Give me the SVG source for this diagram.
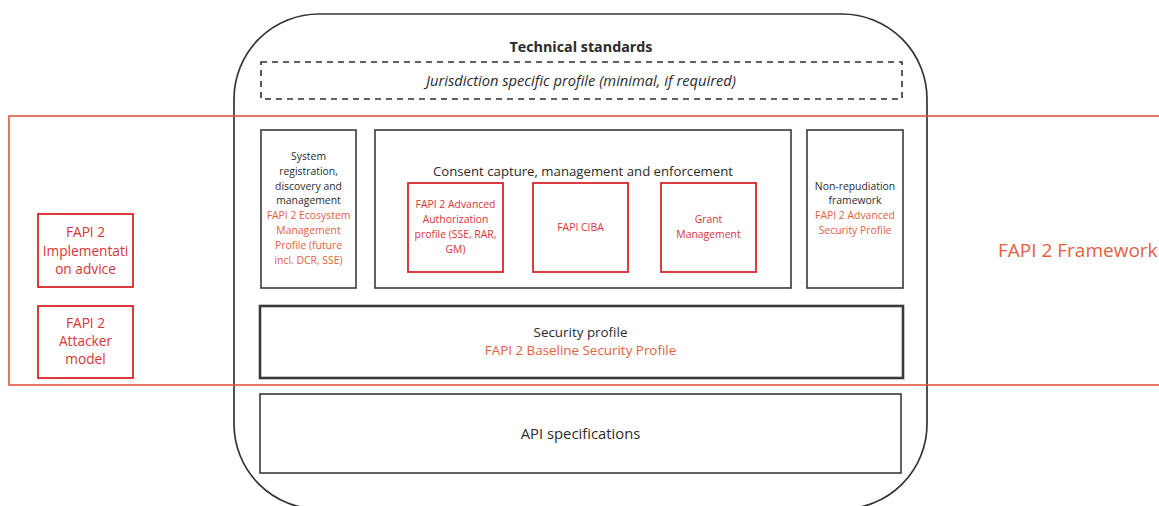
<svg xmlns="http://www.w3.org/2000/svg" width="1159" height="506" viewBox="0 0 1159 506">
  <style>
    text { font-family: "Open Sans", "Noto Sans", "Liberation Sans", sans-serif; text-anchor: middle; }
    .box { fill: #ffffff; stroke: #3a3a3a; stroke-width: 1.6; }
    .thick { stroke-width: 2.6; }
    .red { fill: #ffffff; stroke: #d8262b; stroke-width: 1.8; }
    .frame { fill: none; stroke: #e4553f; stroke-width: 1.6; }
    .dash { fill: none; stroke: #2e2e2e; stroke-width: 1.6; stroke-dasharray: 6 5; }
    .dk { fill: #2b2b2b; }
    .or { fill: #e4603f; }
    .rd { fill: #d8343a; }
    .s { font-size: 10.4px; }
    .m { font-size: 13.4px; }
    .side { font-size: 13.7px; }
  </style>

  <!-- Technical standards container -->
  <g id="technical-standards">
    <rect x="234" y="14" width="693" height="495" rx="85" ry="85" fill="#ffffff" stroke="#333333" stroke-width="1.7"/>
    <text class="dk" x="581" y="52" font-size="14.3" font-weight="700">Technical standards</text>
  </g>

  <g id="jurisdiction-profile">
    <rect class="dash" x="261" y="62" width="641" height="37"/>
    <text class="dk" x="581" y="85.5" font-size="14.7" font-style="italic">Jurisdiction specific profile (minimal, if required)</text>
  </g>

  <g id="system-registration">
    <rect class="box" x="261" y="130" width="95" height="158"/>
    <text class="dk s" x="308.5" y="160">System</text>
    <text class="dk s" x="308.5" y="175">registration,</text>
    <text class="dk s" x="308.5" y="190">discovery and</text>
    <text class="dk s" x="308.5" y="204">management</text>
    <text class="or s" x="308.5" y="219">FAPI 2 Ecosystem</text>
    <text class="or s" x="308.5" y="234">Management</text>
    <text class="or s" x="308.5" y="249">Profile (future</text>
    <text class="or s" x="308.5" y="264">incl. DCR, SSE)</text>
  </g>

  <g id="consent">
    <rect class="box" x="375" y="130" width="416" height="158"/>
    <text class="dk" x="583" y="176" font-size="13.2">Consent capture, management and enforcement</text>
  </g>

  <g id="advanced-authorization">
    <rect class="red" x="408" y="183" width="95" height="89"/>
    <text class="rd s" x="455.5" y="208">FAPI 2 Advanced</text>
    <text class="rd s" x="455.5" y="223">Authorization</text>
    <text class="rd s" x="455.5" y="238">profile (SSE, RAR,</text>
    <text class="rd s" x="455.5" y="253">GM)</text>
  </g>

  <g id="fapi-ciba">
    <rect class="red" x="533" y="183" width="95" height="89"/>
    <text class="rd s" x="580.5" y="231">FAPI CIBA</text>
  </g>

  <g id="grant-management">
    <rect class="red" x="661" y="183" width="95" height="89"/>
    <text class="rd s" x="708.5" y="223">Grant</text>
    <text class="rd s" x="708.5" y="238">Management</text>
  </g>

  <g id="non-repudiation">
    <rect class="box" x="807" y="130" width="96" height="158"/>
    <text class="dk s" x="855" y="190">Non-repudiation</text>
    <text class="dk s" x="855" y="204">framework</text>
    <text class="or s" x="855" y="219">FAPI 2 Advanced</text>
    <text class="or s" x="855" y="234">Security Profile</text>
  </g>

  <g id="security-profile">
    <rect class="box thick" x="260" y="306" width="643" height="72"/>
    <text class="dk m" x="580.5" y="337">Security profile</text>
    <text class="or m" x="580.5" y="355">FAPI 2 Baseline Security Profile</text>
  </g>

  <g id="api-specifications">
    <rect class="box" x="260" y="394" width="641" height="79"/>
    <text class="dk" x="580.5" y="438.5" font-size="14.8">API specifications</text>
  </g>

  <!-- FAPI 2 Framework boundary -->
  <g id="fapi2-framework">
    <rect class="frame" x="9" y="116" width="1170" height="269"/>
    <text class="or" x="998" y="257" font-size="19" style="text-anchor:start">FAPI 2 Framework</text>
  </g>

  <g id="implementation-advice">
    <rect class="red" x="38" y="214" width="95" height="73"/>
    <text class="rd side" x="85.5" y="237">FAPI 2</text>
    <text class="rd side" x="85.5" y="255.5">Implementati</text>
    <text class="rd side" x="85.5" y="274">on advice</text>
  </g>

  <g id="attacker-model">
    <rect class="red" x="38" y="306" width="95" height="72"/>
    <text class="rd side" x="85.5" y="328">FAPI 2</text>
    <text class="rd side" x="85.5" y="346">Attacker</text>
    <text class="rd side" x="85.5" y="364">model</text>
  </g>

  <!-- no connectors in this figure -->
  <g id="connectors"/>
</svg>
